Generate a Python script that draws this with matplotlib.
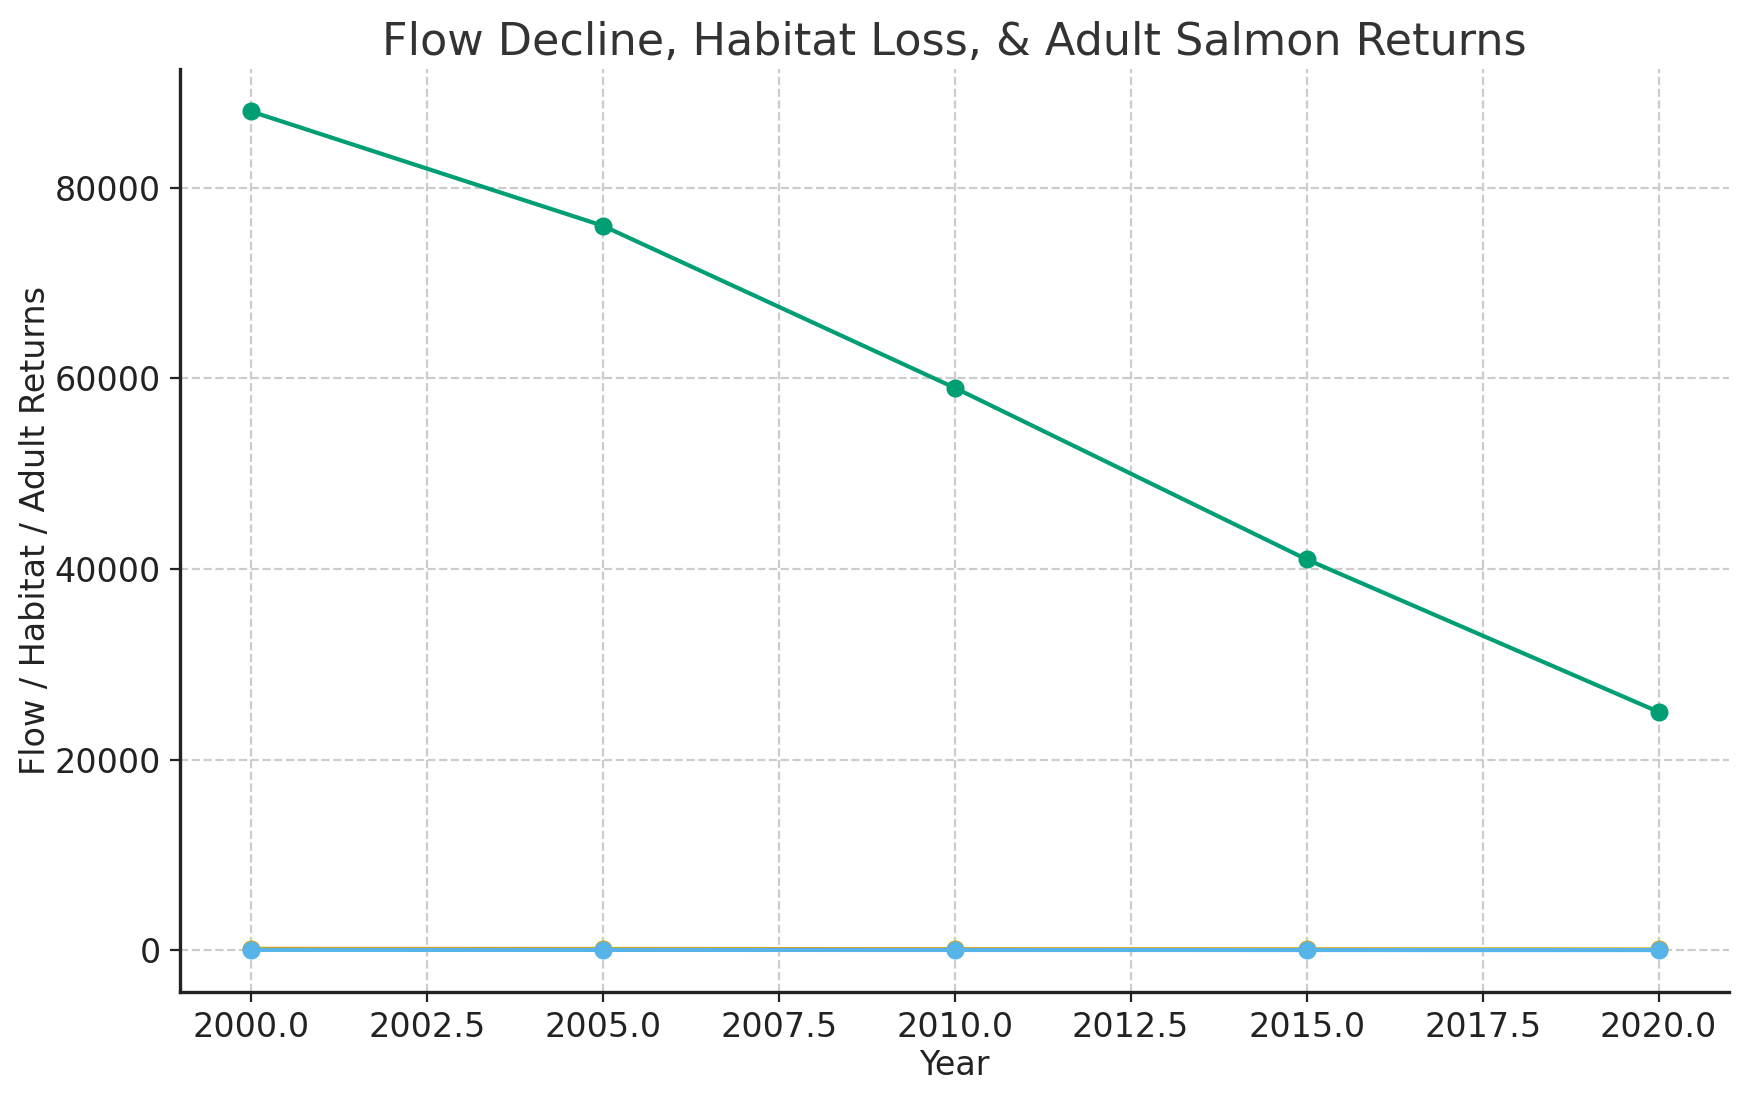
import numpy as np
import matplotlib
matplotlib.use('Agg')
import matplotlib.pyplot as plt

# data ------------------------------------------------------------------------
years = [2000, 2005, 2010, 2015, 2020]
adult_returns = [88000, 76000, 59000, 41000, 25000]
flow = [150, 135, 115, 100, 85]        # tiny values, hug zero on this scale
habitat = [40, 36, 30, 25, 20]

plt.rcParams['font.family'] = ['DejaVu Sans']

fig, ax = plt.subplots(figsize=(8.75, 5.505), dpi=200)
fig.subplots_adjust(left=0.103, right=0.988, top=0.937, bottom=0.099)

ax.plot(years, adult_returns, marker='o', color='#009E73', lw=1.5, ms=5.5, label='Adult Returns')
ax.plot(years, flow, marker='o', color='#E69F00', lw=1.5, ms=5.5, label='Flow')
ax.plot(years, habitat, marker='o', color='#56B4E9', lw=1.5, ms=5.5, label='Habitat')

ax.set_title('Flow Decline, Habitat Loss, & Adult Salmon Returns', fontsize=16, color='#333333', pad=5)
ax.set_xlabel('Year', fontsize=12, color='#222222', labelpad=1.5)
ax.set_ylabel('Flow / Habitat / Adult Returns', fontsize=12, color='#222222', labelpad=1)
ax.tick_params(labelsize=12, colors='#222222')

ax.grid(True, linestyle='--', color='#cccccc', lw=0.8)
ax.set_axisbelow(True)
for s in ['top', 'right']:
    ax.spines[s].set_visible(False)
for s in ['left', 'bottom']:
    ax.spines[s].set_linewidth(1.2)
    ax.spines[s].set_color('#222222')

fig.savefig('out.png', dpi=200)
